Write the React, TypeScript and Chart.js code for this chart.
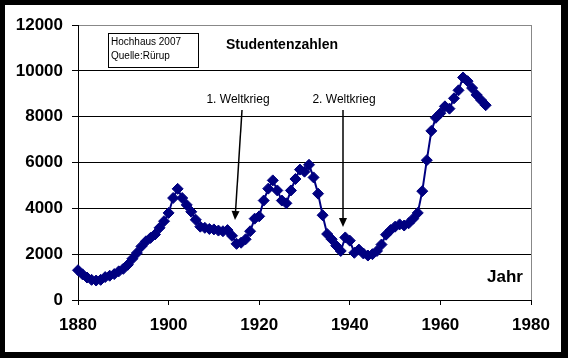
import React, { useEffect, useRef } from 'react';
import { Chart, registerables } from 'chart.js';

Chart.register(...registerables);

const years: number[] = [
  1880, 1881, 1882, 1883, 1884, 1885, 1886, 1887, 1888, 1889,
  1890, 1891, 1892, 1893, 1894, 1895, 1896, 1897, 1898, 1899,
  1900, 1901, 1902, 1903, 1904, 1905, 1906, 1907, 1908, 1909,
  1910, 1911, 1912, 1913, 1914, 1915, 1916, 1917, 1918, 1919,
  1920, 1921, 1922, 1923, 1924, 1925, 1926, 1927, 1928, 1929,
  1930, 1931, 1932, 1933, 1934, 1935, 1936, 1937, 1938, 1939,
  1940, 1941, 1942, 1943, 1944, 1945, 1946, 1947, 1948, 1949,
  1950, 1951, 1952, 1953, 1954, 1955, 1956, 1957, 1958, 1959,
  1960, 1961, 1962, 1963, 1964, 1965, 1966, 1967, 1968, 1969,
  1970,
];

const students: number[] = [
  1300, 1120, 980, 880, 850, 880, 1000, 1060, 1130, 1250,
  1360, 1540, 1800, 2050, 2340, 2560, 2710, 2860, 3150, 3440,
  3800, 4450, 4850, 4450, 4150, 3850, 3500, 3200, 3150, 3100,
  3080, 3030, 3000, 3050, 2800, 2450, 2500, 2650, 3000, 3550,
  3650, 4340, 4860, 5220, 4780, 4340, 4220, 4780, 5280, 5690,
  5600, 5900, 5350, 4640, 3700, 2880, 2650, 2370, 2140, 2730,
  2590, 2060, 2200, 2030, 1940, 2000, 2140, 2420, 2850, 3050,
  3200, 3300, 3250, 3350, 3550, 3800, 4750, 6100, 7380, 7950,
  8150, 8450, 8350, 8800, 9150, 9710, 9550, 9250, 8950, 8720,
  8500,
];

const xTicks: number[] = [1880, 1900, 1920, 1940, 1960, 1980];
const yTicks: number[] = [0, 2000, 4000, 6000, 8000, 10000, 12000];

const chartTitle = 'Studentenzahlen';
const infoLines: string[] = ['Hochhaus 2007', 'Quelle:Rürup'];
const warLabels: string[] = ['1. Weltkrieg', '2. Weltkrieg'];
const axisTitle = 'Jahr';

const FONT = '"Liberation Sans", Arial, sans-serif';

function drawArrow(ctx: CanvasRenderingContext2D, x1: number, y1: number, x2: number, y2: number) {
  const ang = Math.atan2(y2 - y1, x2 - x1);
  const len = 9;
  const half = 4;
  const bx = x2 - Math.cos(ang) * len;
  const by = y2 - Math.sin(ang) * len;
  ctx.beginPath();
  ctx.moveTo(x1, y1);
  ctx.lineTo(bx, by);
  ctx.strokeStyle = '#000';
  ctx.lineWidth = 1.5;
  ctx.stroke();
  ctx.beginPath();
  ctx.moveTo(x2, y2);
  ctx.lineTo(bx + Math.sin(ang) * half, by - Math.cos(ang) * half);
  ctx.lineTo(bx - Math.sin(ang) * half, by + Math.cos(ang) * half);
  ctx.closePath();
  ctx.fillStyle = '#000';
  ctx.fill();
}

const framePlugin = {
  id: 'framePlugin',
  beforeDraw(chart: any) {
    const ctx = chart.ctx as CanvasRenderingContext2D;
    ctx.save();
    ctx.fillStyle = '#000';
    ctx.fillRect(0, 0, chart.width, chart.height);
    ctx.fillStyle = '#fff';
    ctx.fillRect(5, 5, 556, 347);
    ctx.restore();
  },
  afterDraw(chart: any) {
    const ctx = chart.ctx as CanvasRenderingContext2D;
    const a = chart.chartArea;
    ctx.save();
    // right border of plot area
    ctx.strokeStyle = '#888';
    ctx.lineWidth = 1;
    ctx.beginPath();
    ctx.moveTo(Math.round(a.right) + 0.5, a.top);
    ctx.lineTo(Math.round(a.right) + 0.5, a.bottom);
    ctx.stroke();

    // info box
    ctx.strokeStyle = '#000';
    ctx.strokeRect(108.5, 33.5, 90, 34);
    ctx.fillStyle = '#000';
    ctx.font = `10px ${FONT}`;
    ctx.textAlign = 'left';
    ctx.textBaseline = 'middle';
    ctx.fillText(infoLines[0], 111, 42);
    ctx.fillText(infoLines[1], 111, 56);

    // title
    ctx.font = `bold 14px ${FONT}`;
    ctx.textAlign = 'center';
    ctx.fillText(chartTitle, 282, 45);

    // war labels
    ctx.font = `12px ${FONT}`;
    ctx.fillText(warLabels[0], 238, 100);
    ctx.fillText(warLabels[1], 344, 100);

    // arrows
    drawArrow(ctx, 242, 110, 235, 220);
    drawArrow(ctx, 343, 110, 343, 227);

    // axis title
    ctx.font = `bold 17px ${FONT}`;
    ctx.textAlign = 'center';
    ctx.fillText(axisTitle, 505, 277);
    ctx.restore();
  },
};

export default function App() {
  const ref = useRef<HTMLCanvasElement | null>(null);

  useEffect(() => {
    document.body.style.margin = '0';
    const canvas = ref.current;
    if (!canvas) return;
    const chart = new Chart(canvas, {
      type: 'line',
      data: {
        datasets: [
          {
            label: chartTitle,
            data: years.map((y, i) => ({ x: y, y: students[i] })),
            borderColor: '#000080',
            backgroundColor: '#000080',
            borderWidth: 2,
            pointStyle: 'rectRot',
            pointRadius: 5.5,
            pointBorderWidth: 1,
            pointBackgroundColor: '#000080',
            pointBorderColor: '#000080',
            tension: 0,
            clip: false,
          } as any,
        ],
      },
      options: {
        responsive: false,
        animation: false,
        devicePixelRatio: 1,
        layout: { padding: { left: 0, top: 25, right: 37, bottom: 0 } },
        plugins: {
          legend: { display: false },
          tooltip: { enabled: false },
          title: { display: false },
        },
        scales: {
          x: {
            type: 'linear',
            min: 1880,
            max: 1980,
            afterFit: (s: any) => { s.height = 58; },
            afterBuildTicks: (s: any) => { s.ticks = xTicks.map((v) => ({ value: v })); },
            ticks: {
              color: '#000',
              font: { family: FONT, size: 17, weight: 'bold' },
              padding: 10,
              maxRotation: 0,
              callback: (v: any) => String(v),
            },
            grid: {
              drawOnChartArea: false,
              drawTicks: true,
              tickLength: 5,
              color: '#000',
            },
            border: { color: '#000', width: 1 },
          },
          y: {
            min: 0,
            max: 12000,
            afterFit: (s: any) => { s.width = 78; },
            afterBuildTicks: (s: any) => { s.ticks = yTicks.map((v) => ({ value: v })); },
            ticks: {
              color: '#000',
              font: { family: FONT, size: 17, weight: 'bold' },
              padding: 9,
              callback: (v: any) => String(v),
            },
            grid: {
              color: (c: any) => (c.tick && c.tick.value === 12000 ? '#888' : '#000'),
              tickColor: '#000',
              tickLength: 6,
              lineWidth: 1,
            },
            border: { color: '#000', width: 1 },
          },
        },
      },
      plugins: [framePlugin],
    });
    return () => chart.destroy();
  }, []);

  return (
    <canvas
      ref={ref}
      width={568}
      height={358}
      style={{ display: 'block', width: '568px', height: '358px' }}
    />
  );
}
